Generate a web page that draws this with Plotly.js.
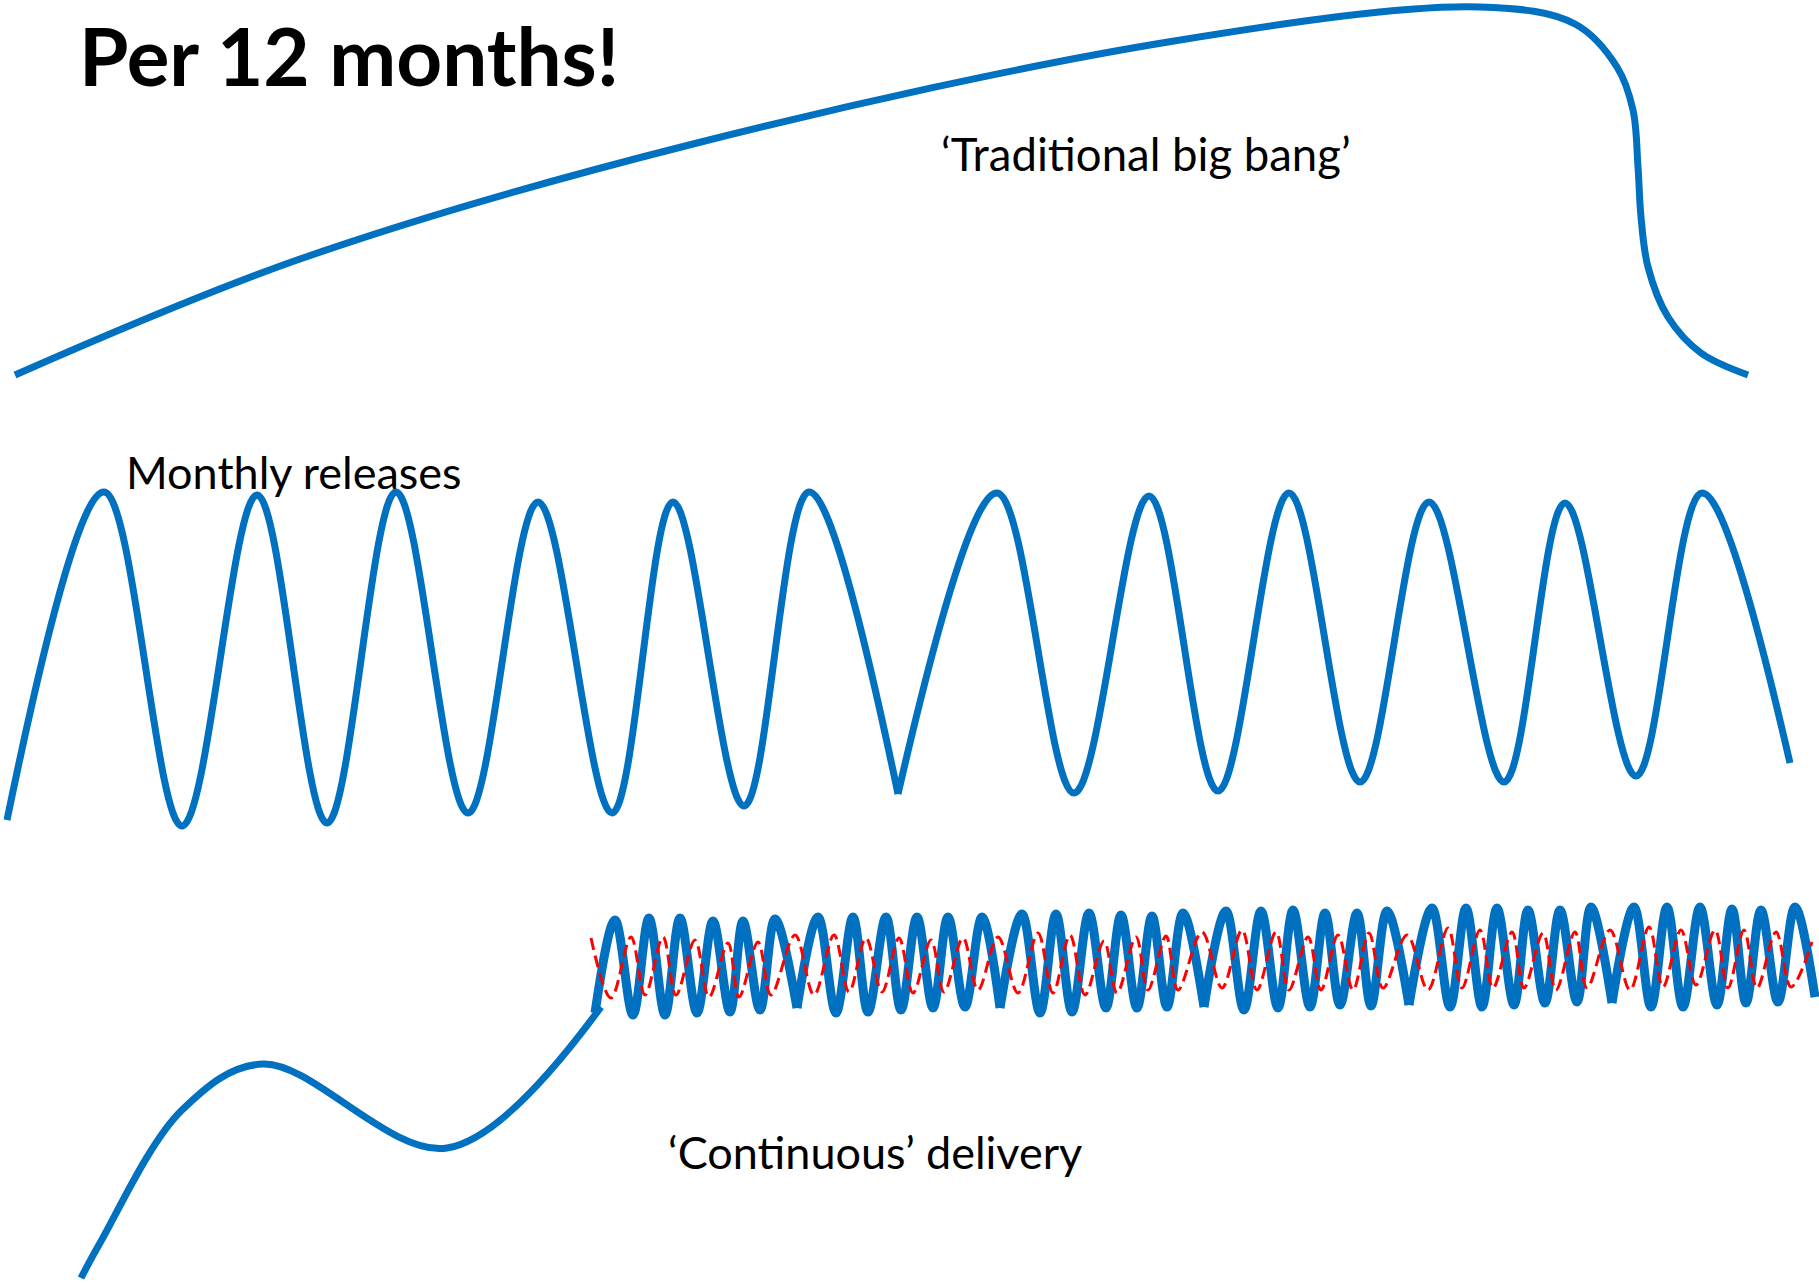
<!DOCTYPE html>
<html>
<head>
<meta charset="utf-8">
<script src="https://cdn.plot.ly/plotly-3.0.1.min.js"></script>
<style>html,body{margin:0;padding:0;background:#fff;}#chart{width:1819px;height:1283px;}</style>
</head>
<body>
<div id="chart"></div>
<script>
// ---- Data (page pixel coordinates) ----
// 'Traditional big bang' curve
const bigBangX = [15, 300, 689, 1168, 1480, 1575, 1617, 1633, 1638, 1641, 1648, 1668, 1701, 1748];
const bigBangY = [375, 259, 145, 42, 7, 24, 67, 110, 167, 217, 267, 317, 353, 375];

// Monthly releases: two halves joined at a sharp corner
const monthlyFirstX = [7, 104, 182, 257, 327, 396, 468, 538, 612, 673, 744, 809, 898];
const monthlyFirstY = [820, 492, 826, 495, 823, 492, 813, 502, 813, 502, 806, 492, 794];
const monthlySecondX = [898, 997, 1074, 1149, 1218, 1289, 1360, 1429, 1504, 1565, 1636, 1702, 1790];
const monthlySecondY = [794, 493, 793, 496, 791, 493, 782, 502, 782, 503, 776, 493, 763];

// Lead-in curve of 'Continuous' delivery
const leadInX = [81, 100, 182, 263, 447, 601];
const leadInY = [1278, 1243, 1110, 1064, 1148, 1007];

// Continuous delivery: six blue segments (extrema)
const contSegX = [
  [595, 615, 633, 649, 665, 680, 697, 713, 730, 743, 760, 775, 797],
  [797, 818, 836, 853, 868, 886, 901, 917, 933, 948, 965, 982, 1000],
  [1000, 1022, 1040, 1056, 1072, 1089, 1106, 1121, 1137, 1152, 1167, 1183, 1204],
  [1204, 1226, 1244, 1261, 1278, 1293, 1310, 1325, 1340, 1357, 1371, 1387, 1409],
  [1409, 1432, 1450, 1466, 1482, 1497, 1514, 1528, 1545, 1560, 1577, 1591, 1612],
  [1612, 1634, 1651, 1667, 1683, 1700, 1717, 1732, 1746, 1761, 1778, 1795, 1815]
];
const contSegY = [
  [1013, 920, 1015, 918, 1015, 918, 1013, 921, 1012, 921, 1010, 919, 1008],
  [1008, 917, 1013, 917, 1012, 917, 1010, 917, 1008, 917, 1007, 917, 1008],
  [1008, 914, 1013, 914, 1012, 913, 1008, 915, 1008, 916, 1007, 913, 1007],
  [1007, 911, 1010, 911, 1008, 910, 1007, 913, 1005, 913, 1006, 911, 1005],
  [1005, 908, 1007, 908, 1007, 908, 1005, 910, 1003, 910, 1002, 907, 1003],
  [1003, 907, 1007, 907, 1007, 907, 1005, 909, 1003, 910, 1002, 907, 997]
];

// Red dashed wave (extrema)
const redX = [591, 611, 631, 645, 663, 676, 695, 709, 728, 739, 758, 771, 795,
  814, 834, 849, 866, 882, 899, 913, 931, 944, 963, 978, 998,
  1018, 1038, 1053, 1070, 1085, 1104, 1117, 1136, 1148, 1166, 1178, 1202,
  1222, 1242, 1257, 1276, 1289, 1308, 1321, 1338, 1353, 1369, 1383, 1407,
  1428, 1448, 1462, 1480, 1493, 1512, 1524, 1543, 1556, 1575, 1587, 1610,
  1630, 1649, 1663, 1681, 1696, 1715, 1728, 1744, 1757, 1776, 1791, 1812];
const redY = [938, 998, 937, 995, 937, 995, 940, 997, 943, 997, 942, 995, 935,
  995, 935, 992, 938, 992, 938, 993, 940, 992, 938, 990, 937,
  993, 933, 993, 935, 995, 941, 993, 937, 990, 936, 990, 932,
  988, 930, 990, 932, 990, 937, 990, 935, 990, 933, 988, 935,
  990, 928, 988, 930, 988, 932, 988, 933, 990, 932, 988, 930,
  990, 927, 987, 930, 985, 930, 988, 930, 988, 932, 987, 942];

// Text labels
const labelTexts = ['Per 12 months!', '\u2018Traditional big bang\u2019', 'Monthly releases', '\u2018Continuous\u2019 delivery'];
const labelX = [77, 939, 124, 666];
const labelY = [55, 153, 472, 1152];

// ---- Styling ----
const BLUE = '#0070C0';
const traces = [];
function addLine(x, y, width, color, dash, smooth) {
  traces.push({
    type: 'scatter', mode: 'lines', x: x, y: y, hoverinfo: 'skip',
    line: {color: color, width: width, shape: 'spline', smoothing: smooth, dash: dash || 'solid', simplify: false}
  });
}
addLine(bigBangX, bigBangY, 7, BLUE, null, 1);
addLine(monthlyFirstX, monthlyFirstY, 7, BLUE, null, 1);
addLine(monthlySecondX, monthlySecondY, 7, BLUE, null, 1);
addLine(leadInX, leadInY, 7, BLUE, null, 1);
for (let i = 0; i < contSegX.length; i++) addLine(contSegX[i], contSegY[i], 9, BLUE, null, 1);
addLine(redX, redY, 3, '#FF0000', '12px,6px', 1);

const fontSizes = [80, 45.5, 45, 45];
const annotations = labelTexts.map((t, i) => ({
  text: i === 0 ? '<b>' + t + '</b>' : t,
  x: labelX[i], y: labelY[i], xref: 'x', yref: 'y',
  xanchor: 'left', yanchor: 'middle', showarrow: false,
  font: {family: 'Lato, "Open Sans", sans-serif', size: fontSizes[i], color: '#000'}
}));

const layout = {
  width: 1819, height: 1283,
  margin: {l: 0, r: 0, t: 0, b: 0, pad: 0},
  paper_bgcolor: '#ffffff', plot_bgcolor: '#ffffff',
  showlegend: false,
  xaxis: {range: [0, 1819], visible: false, fixedrange: true},
  yaxis: {range: [1283, 0], visible: false, fixedrange: true},
  annotations: annotations
};
Plotly.newPlot('chart', traces, layout, {staticPlot: true, displayModeBar: false});
</script>
</body>
</html>
